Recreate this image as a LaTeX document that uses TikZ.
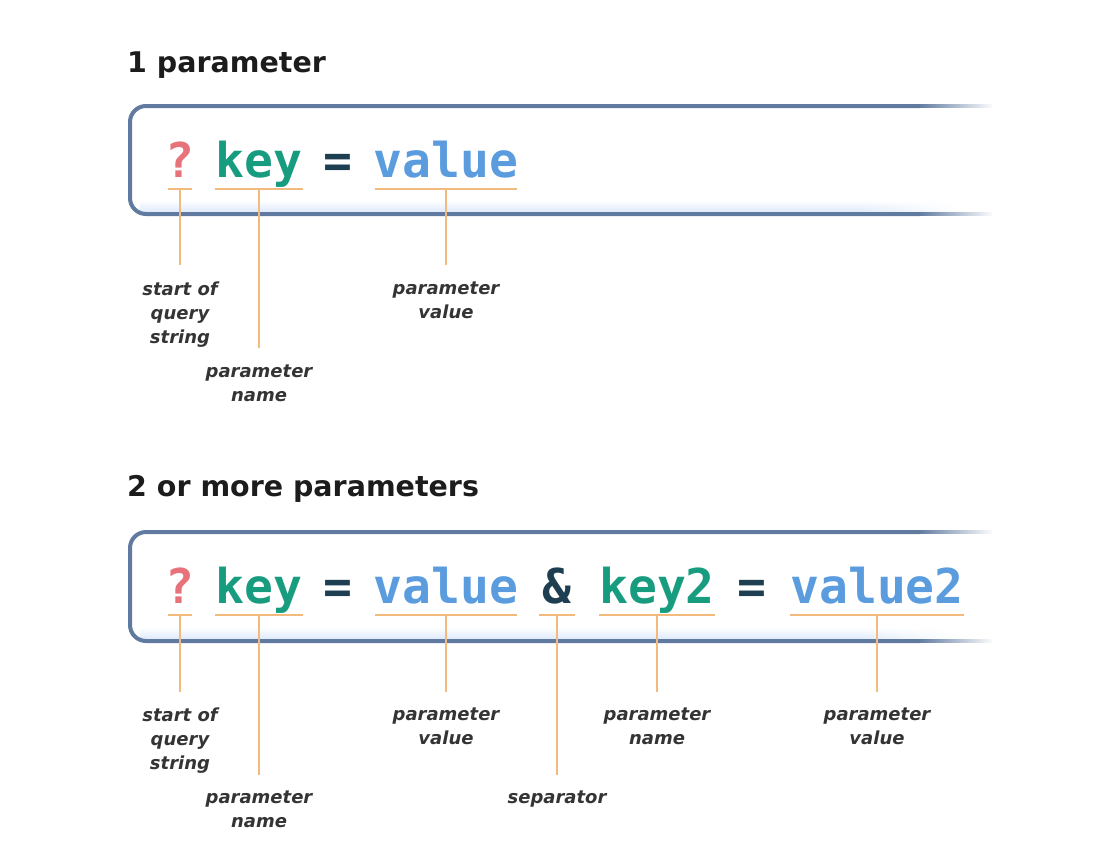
\documentclass[tikz,border=0pt]{standalone}
\usepackage{fontspec}
\usepackage{tikz}
\usetikzlibrary{positioning,fadings}
\newfontfamily\codefont{DejaVu Sans Mono}
\newfontfamily\lblfont{DejaVu Sans}
\definecolor{boxblue}{RGB}{96,122,160}
\definecolor{glowb}{RGB}{222,234,250}
\definecolor{uorange}{RGB}{242,186,124}
\definecolor{qred}{RGB}{232,114,122}
\definecolor{keyg}{RGB}{24,156,128}
\definecolor{eqdark}{RGB}{30,62,82}
\definecolor{valb}{RGB}{90,156,222}
\definecolor{lblc}{RGB}{52,52,52}
\definecolor{headc}{RGB}{28,28,28}
\tikzset{
every picture/.style={x=1pt, y=-1pt},
head/.style={anchor=base west, inner sep=0, text=headc,
  font=\lblfont\bfseries\fontsize{28.5}{34}\selectfont},
tok/.style={anchor=base, inner sep=0,
  font=\codefont\bfseries\fontsize{48}{56}\selectfont},
uline/.style={draw=uorange, line width=2pt},
lbl/.style={anchor=north, inner sep=0, align=center, text=lblc,
  font=\lblfont\bfseries\itshape\fontsize{18}{24}\selectfont},
boxline/.style={draw=boxblue, line width=4pt, rounded corners=16pt},
fadeline/.style={draw=boxblue, line width=4pt, path fading=east},
glow/.style={top color=white, bottom color=glowb},
glowend/.style={top color=white, bottom color=glowb, path fading=east}
}

\begin{document}
\begin{tikzpicture}
      \useasboundingbox (0,0) rectangle (1117,860);
      \node[head] (h1) at (127,72) {1 parameter};
      \shade[glow] (140,200) rectangle (860,212);
      \shade[glowend] (860,200) rectangle (960,212);
      \draw[boxline] (920,106) -- (130,106) -- (130,214) -- (920,214);
      \draw[fadeline] (920,106) -- (992,106);
      \draw[fadeline] (920,214) -- (992,214);
      \node[tok, text=qred] (q1) at (180,177) {?};
      \node[tok, text=keyg] (k1) at (259,177) {key};
      \node[tok, text=eqdark] (e1) at (338,177) {=};
      \node[tok, text=valb] (v1) at (446,177) {value};
      \coordinate (u1) at (0,189);
      \coordinate (t1) at (0,282);
      \coordinate (b1) at (0,365);
      \draw[uline, shorten <=3pt, shorten >=3pt] (q1.west |- u1) -- (q1.east |- u1);
      \draw[uline] (k1.west |- u1) -- (k1.east |- u1);
      \draw[uline, shorten <=1.5pt, shorten >=1.5pt] (v1.west |- u1) -- (v1.east |- u1);
      \node[lbl] (lq1) at (q1 |- t1) {start of\\query\\string};
      \node[lbl] (lk1) at (k1 |- b1) {parameter\\name};
      \node[lbl] (lv1) at (v1 |- t1) {parameter\\value};
      \draw[uline, shorten >=17pt] (q1 |- u1) -- (lq1.north);
      \draw[uline, shorten >=17pt] (k1 |- u1) -- (lk1.north);
      \draw[uline, shorten >=17pt] (v1 |- u1) -- (lv1.north);

      \node[head] (h2) at (127,496) {2 or more parameters};
      \shade[glow] (140,627) rectangle (860,639);
      \shade[glowend] (860,627) rectangle (960,639);
      \draw[boxline] (920,532) -- (130,532) -- (130,641) -- (920,641);
      \draw[fadeline] (920,532) -- (992,532);
      \draw[fadeline] (920,641) -- (992,641);
      \node[tok, text=qred] (q2) at (180,603) {?};
      \node[tok, text=keyg] (k2) at (259,603) {key};
      \node[tok, text=eqdark] (e2) at (338,603) {=};
      \node[tok, text=valb] (v2) at (446,603) {value};
      \node[tok, text=eqdark] (a2) at (557,603) {\&};
      \node[tok, text=keyg] (k3) at (657,603) {key2};
      \node[tok, text=eqdark] (e3) at (752,603) {=};
      \node[tok, text=valb] (v3) at (877,603) {value2};
      \coordinate (u2) at (0,615);
      \coordinate (t2) at (0,708);
      \coordinate (b2) at (0,791);
      \draw[uline, shorten <=3pt, shorten >=3pt] (q2.west |- u2) -- (q2.east |- u2);
      \draw[uline] (k2.west |- u2) -- (k2.east |- u2);
      \draw[uline, shorten <=1.5pt, shorten >=1.5pt] (v2.west |- u2) -- (v2.east |- u2);
      \draw[uline, shorten <=-3pt, shorten >=-3pt] (a2.west |- u2) -- (a2.east |- u2);
      \draw[uline] (k3.west |- u2) -- (k3.east |- u2);
      \draw[uline] (v3.west |- u2) -- (v3.east |- u2);
      \node[lbl] (lq2) at (q2 |- t2) {start of\\query\\string};
      \node[lbl] (lk2) at (k2 |- b2) {parameter\\name};
      \node[lbl] (lv2) at (v2 |- t2) {parameter\\value};
      \node[lbl] (la2) at (a2 |- b2) {separator};
      \node[lbl] (lk3) at (k3 |- t2) {parameter\\name};
      \node[lbl] (lv3) at (v3 |- t2) {parameter\\value};
      \draw[uline, shorten >=16pt] (q2 |- u2) -- (lq2.north);
      \draw[uline, shorten >=16pt] (k2 |- u2) -- (lk2.north);
      \draw[uline, shorten >=16pt] (v2 |- u2) -- (lv2.north);
      \draw[uline, shorten >=16pt] (a2 |- u2) -- (la2.north);
      \draw[uline, shorten >=16pt] (k3 |- u2) -- (lk3.north);
      \draw[uline, shorten >=16pt] (v3 |- u2) -- (lv3.north);
    \end{tikzpicture}
\end{document}
